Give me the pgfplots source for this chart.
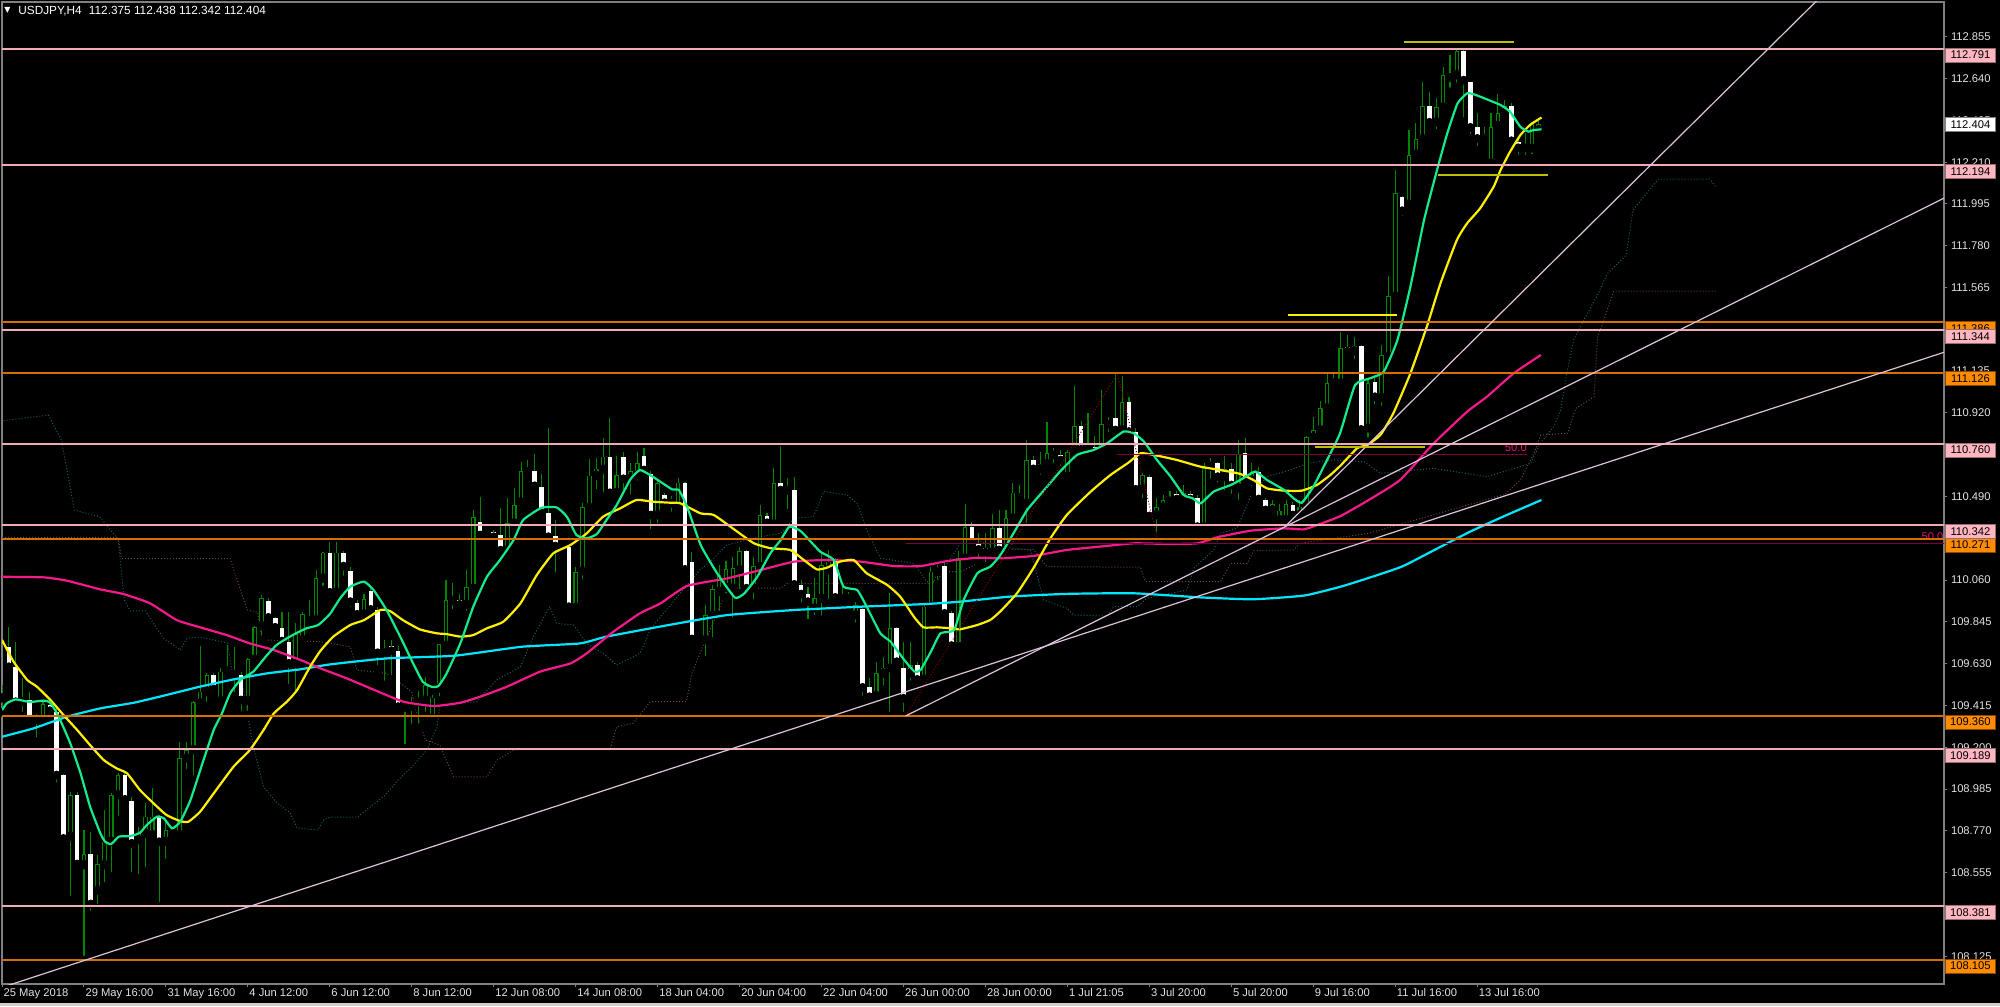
\documentclass[border=0pt]{standalone}
\usepackage{pgfplots}
\pgfplotsset{compat=1.18}
\usepackage{pgfplotstable}
\usepackage{fontspec}
\setmainfont{Liberation Sans}
\newfontfamily\symfont{DejaVu Sans}

\definecolor{wick}{RGB}{0,135,0}
\definecolor{axisGray}{RGB}{128,128,128}
\definecolor{labelText}{RGB}{225,225,225}
\definecolor{barGray}{RGB}{212,208,200}
\definecolor{lvlPink}{RGB}{240,170,180}
\definecolor{lvlOrange}{RGB}{215,110,0}
\definecolor{boxPink}{RGB}{255,182,193}
\definecolor{boxOrange}{RGB}{255,140,0}
\definecolor{edgePink}{RGB}{150,110,115}
\definecolor{edgeOrange}{RGB}{140,70,0}
\definecolor{trend}{RGB}{220,195,220}
\definecolor{maGreen}{RGB}{20,235,140}
\definecolor{maYellow}{RGB}{255,240,0}
\definecolor{maPink}{RGB}{245,25,140}
\definecolor{maCyan}{RGB}{0,230,255}
\definecolor{ichiTeal}{RGB}{20,95,95}
\definecolor{ichiRed}{RGB}{110,65,65}
\definecolor{fibLine}{RGB}{125,0,60}
\definecolor{fibDot}{RGB}{140,0,0}
\definecolor{fibText}{RGB}{225,20,120}
\definecolor{olive}{RGB}{190,190,0}

\newcommand\lblfont{\fontsize{5.6}{6}\selectfont}

% H4 candles: bar index, open, high, low, close
\pgfplotstableread{
i o h l c
0 109.452 109.52 109.38 109.469
1 109.717 109.817 109.58 109.614
2 109.614 109.743 109.426 109.434
3 109.434 109.554 109.36 109.450
4 109.443 109.486 109.331 109.340
5 109.340 109.37 109.229 109.357
6 109.340 109.443 109.323 109.421
7 109.417 109.43 109.37 109.388
8 109.383 109.40 108.997 109.057
9 109.057 109.06 108.723 108.731
10 108.740 108.971 108.414 108.954
11 108.954 108.971 108.577 108.599
12 108.594 108.774 108.105 108.651
13 108.651 108.766 108.337 108.394
14 108.462 108.646 108.371 108.599
15 108.594 108.877 108.483 108.714
16 108.714 108.963 108.534 108.954
17 108.954 109.066 108.826 109.057
18 109.057 109.066 108.894 108.932
19 108.923 108.946 108.534 108.706
20 108.723 108.791 108.526 108.757
21 108.757 108.911 108.560 108.843
22 108.749 108.989 108.723 108.843
23 108.843 108.85 108.380 108.714
24 108.714 108.826 108.603 108.774
25 108.775 108.78 108.74 108.755
26 108.749 109.229 108.740 109.146
27 109.143 109.229 109.066 109.186
28 109.186 109.44 109.032 109.431
29 109.426 109.721 109.400 109.486
30 109.486 109.58 109.409 109.572
31 109.572 109.580 109.460 109.500
32 109.438 109.606 109.426 109.589
33 109.589 109.726 109.563 109.601
34 109.594 109.717 109.460 109.577
35 109.572 109.589 109.366 109.443
36 109.440 109.66 109.366 109.652
37 109.652 109.824 109.632 109.820
38 109.824 109.983 109.752 109.966
39 109.952 109.966 109.829 109.868
40 109.863 109.872 109.803 109.817
41 109.815 109.897 109.740 109.746
42 109.743 109.897 109.503 109.632
43 109.632 109.837 109.460 109.781
44 109.752 109.897 109.717 109.885
45 109.863 109.957 109.820 109.851
46 109.854 110.112 109.846 110.069
47 110.069 110.206 110.009 110.201
48 110.201 110.257 109.949 109.997
49 109.997 110.257 109.960 110.201
50 110.201 110.21 110.06 110.132
51 110.106 110.129 109.90 109.949
52 109.944 109.96 109.86 109.884
53 109.884 109.99 109.87 109.961
54 110.005 110.02 109.88 109.909
55 109.906 109.92 109.60 109.686
56 109.686 109.75 109.52 109.692
57 109.721 109.75 109.55 109.697
58 109.693 109.72 109.40 109.409
59 109.405 109.44 109.194 109.412
60 109.409 109.46 109.30 109.434
61 109.434 109.49 109.30 109.443
62 109.443 109.56 109.36 109.520
63 109.349 109.47 109.306 109.455
64 109.503 109.73 109.44 109.729
65 109.722 110.060 109.717 109.957
66 109.954 110.043 109.889 109.960
67 109.957 109.99 109.90 109.935
68 109.935 110.112 109.880 110.022
69 110.017 110.420 110.009 110.383
70 110.360 110.485 110.283 110.292
71 110.305 110.33 110.29 110.313
72 110.309 110.32 110.27 110.283
73 110.290 110.429 110.189 110.214
74 110.214 110.480 110.197 110.352
75 110.352 110.532 110.335 110.444
76 110.461 110.669 110.455 110.621
77 110.619 110.677 110.60 110.626
78 110.621 110.708 110.540 110.545
79 110.540 110.605 110.403 110.408
80 110.407 110.840 110.266 110.283
81 110.288 110.369 110.077 110.235
82 110.237 110.25 110.22 110.230
83 110.232 110.235 109.906 109.923
84 109.918 110.129 109.909 110.100
85 110.106 110.455 110.043 110.437
86 110.432 110.683 110.420 110.597
87 110.597 110.686 110.506 110.633
88 110.629 110.789 110.489 110.695
89 110.695 110.892 110.506 110.509
90 110.509 110.70 110.48 110.600
91 110.695 110.72 110.50 110.581
92 110.581 110.66 110.48 110.620
93 110.600 110.72 110.55 110.660
94 110.700 110.74 110.60 110.626
95 110.606 110.62 110.30 110.395
96 110.395 110.58 110.33 110.557
97 110.500 110.51 110.44 110.458
98 110.455 110.49 110.39 110.462
99 110.438 110.583 110.438 110.561
100 110.561 110.566 110.095 110.115
101 110.151 110.206 109.752 109.757
102 109.757 109.76 109.745 109.750
103 109.752 109.932 109.646 109.879
104 109.879 110.035 109.743 110.012
105 110.000 110.138 109.880 110.086
106 110.020 110.16 109.97 110.115
107 110.018 110.180 109.846 110.120
108 110.112 110.232 109.992 110.210
109 110.210 110.215 110.009 110.018
110 110.018 110.180 109.940 110.132
111 110.129 110.446 110.112 110.395
112 110.390 110.403 110.343 110.355
113 110.348 110.635 110.335 110.558
114 110.561 110.750 110.506 110.523
115 110.529 110.587 110.403 110.521
116 110.523 110.592 110.035 110.038
117 110.035 110.060 109.923 109.988
118 109.988 110.026 109.838 109.949
119 109.915 110.069 109.858 109.966
120 109.966 110.198 109.855 110.138
121 110.112 110.215 109.940 110.155
122 110.167 110.172 109.966 109.971
123 109.971 110.026 109.923 109.965
124 109.966 110.000 109.923 109.972
125 109.880 109.949 109.820 109.932
126 109.913 109.932 109.443 109.508
127 109.512 109.555 109.443 109.460
128 109.464 109.640 109.409 109.580
129 109.580 109.666 109.495 109.606
130 109.606 109.992 109.361 109.812
131 109.812 109.820 109.615 109.640
132 109.606 109.743 109.361 109.452
133 109.580 109.743 109.520 109.623
134 109.623 109.640 109.530 109.549
135 109.549 109.940 109.540 109.923
136 109.923 110.129 109.900 110.103
137 110.103 110.140 110.040 110.108
138 110.134 110.155 109.870 109.889
139 109.889 109.900 109.700 109.723
140 109.718 110.210 109.710 110.172
141 110.172 110.450 110.160 110.331
142 110.331 110.360 110.200 110.246
143 110.246 110.300 110.150 110.218
144 110.227 110.300 110.130 110.204
145 110.204 110.400 110.180 110.326
146 110.326 110.420 110.200 110.215
147 110.215 110.420 110.200 110.378
148 110.378 110.560 110.340 110.510
149 110.503 110.550 110.450 110.484
150 110.455 110.780 110.330 110.678
151 110.678 110.700 110.600 110.632
152 110.630 110.720 110.580 110.657
153 110.657 110.875 110.620 110.712
154 110.712 110.740 110.640 110.704
155 110.704 110.730 110.630 110.678
156 110.592 110.730 110.580 110.717
157 110.729 111.058 110.700 110.853
158 110.853 110.880 110.700 110.733
159 110.729 110.918 110.700 110.750
160 110.746 110.800 110.700 110.719
161 110.726 111.038 110.720 110.861
162 110.861 110.900 110.800 110.867
163 110.896 111.124 110.820 110.832
164 110.832 111.110 110.820 110.976
165 110.976 111.000 110.810 110.824
166 110.820 110.840 110.500 110.527
167 110.527 110.610 110.460 110.599
168 110.592 110.600 110.380 110.390
169 110.395 110.480 110.283 110.434
170 110.434 110.500 110.400 110.472
171 110.464 110.520 110.420 110.489
172 110.503 110.520 110.460 110.477
173 110.477 110.550 110.440 110.506
174 110.503 110.520 110.440 110.477
175 110.484 110.500 110.320 110.335
176 110.332 110.660 110.320 110.635
177 110.644 110.690 110.560 110.661
178 110.664 110.670 110.540 110.592
179 110.592 110.700 110.500 110.630
180 110.630 110.660 110.480 110.549
181 110.532 110.780 110.450 110.707
182 110.716 110.790 110.530 110.570
183 110.570 110.660 110.520 110.618
184 110.618 110.640 110.440 110.477
185 110.472 110.480 110.400 110.421
186 110.417 110.470 110.400 110.450
187 110.369 110.450 110.340 110.417
188 110.369 110.470 110.360 110.450
189 110.446 110.460 110.380 110.395
190 110.395 110.470 110.370 110.438
191 110.438 110.800 110.430 110.794
192 110.794 110.900 110.750 110.832
193 110.832 110.980 110.800 110.944
194 110.944 111.130 110.920 111.075
195 111.075 111.123 111.030 111.080
196 111.072 111.338 111.063 111.252
197 111.257 111.321 111.226 111.238
198 111.238 111.312 111.175 111.264
199 111.264 111.269 110.789 110.835
200 110.841 111.098 110.772 111.075
201 111.081 111.115 110.943 111.003
202 110.998 111.269 110.935 111.218
203 111.209 111.624 111.209 111.521
204 111.518 112.169 111.501 112.049
205 112.032 112.036 111.912 111.960
206 111.993 112.375 111.981 112.247
207 112.250 112.409 112.247 112.329
208 112.329 112.620 112.324 112.500
209 112.499 112.572 112.409 112.415
210 112.415 112.538 112.358 112.492
211 112.492 112.701 112.487 112.656
212 112.658 112.761 112.572 112.646
213 112.658 112.787 112.598 112.782
214 112.782 112.787 112.418 112.632
215 112.624 112.624 112.332 112.389
216 112.389 112.461 112.272 112.332
217 112.329 112.392 112.324 112.355
218 112.204 112.461 112.204 112.392
219 112.397 112.560 112.375 112.464
220 112.464 112.529 112.444 112.500
221 112.500 112.512 112.315 112.320
222 112.315 112.332 112.224 112.284
223 112.284 112.358 112.224 112.290
224 112.281 112.418 112.229 112.409
225 112.375 112.438 112.342 112.404
}\candles

\tikzset{
  pbox/.style={draw=edgePink, fill=boxPink, text=black, font=\lblfont, inner sep=0pt,
    minimum width=25pt, minimum height=7pt, anchor=north west, line width=0.4pt},
  obox/.style={pbox, draw=edgeOrange, fill=boxOrange},
  wbox/.style={pbox, draw=axisGray, fill=white, anchor=west},
}

\begin{document}
\begin{tikzpicture}
\fill[black] (-1pt,-11pt) rectangle (999pt,492pt);
\fill[barGray] (-1pt,-11pt) rectangle (999pt,-9.6pt);
\begin{axis}[
  at={(0,0)}, anchor=south west,
  scale only axis, width=971pt, height=491pt,
  xmin=0, xmax=284.33, ymin=107.982, ymax=113.034,
  clip mode=individual,
  axis line style={draw=axisGray, line width=0.6pt},
  tick align=outside, major tick length=1.5pt,
  tick style={draw=axisGray, line width=0.5pt},
  xtick pos=lower, ytick pos=upper,
  xticklabel pos=lower, yticklabel pos=upper,
  xtick={0,12,...,216},
  xticklabels={25 May 2018,29 May 16:00,31 May 16:00,4 Jun 12:00,6 Jun 12:00,8 Jun 12:00,12 Jun 08:00,14 Jun 08:00,18 Jun 04:00,20 Jun 04:00,22 Jun 04:00,26 Jun 00:00,28 Jun 00:00,1 Jul 21:05,3 Jul 20:00,5 Jul 20:00,9 Jul 16:00,11 Jul 16:00,13 Jul 16:00},
  ytick={112.855,112.640,112.425,112.210,111.995,111.780,111.565,111.350,111.135,110.920,110.705,110.490,110.275,110.060,109.845,109.630,109.415,109.200,108.985,108.770,108.555,108.340,108.125},
  yticklabels={112.855,112.640,112.425,112.210,111.995,111.780,111.565,111.350,111.135,110.920,110.705,110.490,110.275,110.060,109.845,109.630,109.415,109.200,108.985,108.770,108.555,108.340,108.125},
  tick label style={font=\lblfont, text=labelText},
  xticklabel style={anchor=north west, inner sep=0pt, yshift=-0.6pt, xshift=0.6pt},
  yticklabel style={anchor=west, inner sep=0pt, xshift=1.8pt},
]

% Ichimoku cloud borders
\addplot[ichiTeal, densely dotted, line width=0.5pt] coordinates {
(-0.2,110.878) (6.8,110.909) (8.7,110.781) (10.6,110.420) (14.3,110.385) (17,110.27)
(17.9,109.958) (18.8,109.901) (21,109.901) (23.6,109.762) (26.1,109.700) (27.1,109.762)
(29,109.767) (33,109.736) (33.9,109.546) (35.3,109.505) (36.8,109.201) (38.3,108.996)
(40.3,108.913) (42.2,108.862) (43.2,108.785) (46.2,108.774) (47.1,108.826) (48.1,108.841)
(52,108.84) (56,108.95) (58,109.032) (59.8,109.091) (62.2,109.186) (63.7,109.306)
(64.1,109.417) (69.5,109.434) (72.4,109.546) (75.9,109.614) (77.8,109.769) (80.2,109.923)
(81.2,109.837) (83.7,109.829) (85.6,109.734) (88,109.683) (90,109.623) (93.4,109.683)
(94.9,109.803) (96.4,109.872) (98.3,109.949) (100.3,110.035) (102.2,110.112) (104.2,110.172)
(106.1,110.240) (111,110.283) (114,110.300) (116,110.378) (118.8,110.386) (120.3,110.515)
(123.7,110.498) (125.2,110.455) (126.6,110.318) (128.6,110.172) (133.5,110.146) (135.4,110.052)
(136.9,110.052) (138.4,110.146) (140.3,110.249) (143,110.26) (146.2,110.23) (150.6,110.215)
(152.5,109.958) (155.9,109.915) (156.9,109.880) (161.8,109.875) (162.8,109.923) (166.2,109.923)
(167.6,109.966) (173.5,110.009) (174.5,110.121) (177.4,110.215) (178.4,110.301) (180.8,110.326)
(182.8,110.489) (185.2,110.592) (188.6,110.626) (191.1,110.661) (195,110.678) (199.4,110.669)
(201.8,110.609) (209.6,110.635) (217.4,110.592) (223.8,110.660) (225.2,110.763) (227.2,110.849)
(228.2,110.935) (229.1,111.123) (230.1,111.295) (231.6,111.398) (233.7,111.535) (235,111.635)
(237.8,111.732) (238.8,111.964) (242.5,112.123) (250,112.123) (251,112.08)
};
\addplot[ichiRed, densely dotted, line width=0.5pt] coordinates {
(0,110.28) (17,110.28) (17.5,110.17) (33.4,110.17) (35.9,109.906) (37.4,109.896)
(38.1,109.752) (46.6,109.743) (51,109.717) (52,109.597) (56.3,109.580) (60,109.486)
(60.7,109.374) (62,109.237) (64.1,109.211) (66.1,109.048) (71,109.048) (72.5,109.134)
(74.9,109.186) (89,109.186) (90,109.306) (92.4,109.323) (94.9,109.434) (100.2,109.435)
(101,109.580) (102.3,109.692) (104.3,109.855) (106.2,110.018) (114,110.018) (115,110.043)
(136.4,110.043) (136.9,110.103) (140.3,110.103) (145,110.18) (146.2,110.218) (151,110.218)
(153,110.129) (166.7,110.126) (167.4,110.052) (178.4,110.052) (179.9,110.146) (182.3,110.146)
(183.3,110.211) (189.1,110.215) (190,110.249) (200,110.30) (210,110.40) (220,110.50)
(222.3,110.575) (224.3,110.712) (225.3,110.806) (229.2,110.815) (230.4,110.943) (233.1,111.003)
(233.6,111.312) (234.1,111.355) (236,111.547) (251,111.547)
};

% candles: wicks, then bodies
\addplot[only marks, mark=none, error bars/.cd, y dir=plus, y explicit, error mark=none,
  error bar style={draw=wick, line width=0.55pt}]
  table[x=i, y=l, y error expr=\thisrow{h}-\thisrow{l}] {\candles};
\addplot[only marks, mark=none, restrict expr to domain={\thisrow{c}-\thisrow{o}}{0.0001:10},
  error bars/.cd, y dir=plus, y explicit, error mark=none,
  error bar style={draw=wick, line width=2.3pt}]
  table[x=i, y=o, y error expr=\thisrow{c}-\thisrow{o}] {\candles};
\addplot[only marks, mark=none, restrict expr to domain={\thisrow{c}-\thisrow{o}}{0.012:10},
  error bars/.cd, y dir=plus, y explicit, error mark=none,
  error bar style={draw=black, line width=1.2pt}]
  table[x=i, y expr=\thisrow{o}+0.004, y error expr=\thisrow{c}-\thisrow{o}-0.008] {\candles};
\addplot[only marks, mark=none, restrict expr to domain={\thisrow{o}-\thisrow{c}}{0.0001:10},
  error bars/.cd, y dir=plus, y explicit, error mark=none,
  error bar style={draw=white, line width=2.3pt}]
  table[x=i, y=c, y error expr=\thisrow{o}-\thisrow{c}] {\candles};

% moving averages
\addplot[maCyan, line width=1.1pt, smooth, tension=0.3] coordinates {
(0,109.254) (4.6,109.297) (9.5,109.357) (14.4,109.400) (19.3,109.429) (24.1,109.469)
(29,109.512) (33.9,109.549) (38.8,109.580) (43.7,109.601) (48,109.626) (56.3,109.657)
(66.3,109.671) (76.1,109.717) (84.6,109.734) (88.5,109.769) (97.8,109.830) (106.2,109.880)
(116,109.906) (125.7,109.923) (135.4,109.937) (140.3,109.949) (147.6,109.975) (155.9,109.989)
(165.7,109.992) (175.4,109.971) (182.8,109.961) (187.7,109.971) (191.1,109.983) (196,110.026)
(200,110.07) (205,110.13) (210,110.22) (215,110.31) (220,110.39) (225.4,110.472)
};
\addplot[maPink, line width=1.1pt, smooth, tension=0.3] coordinates {
(0,110.077) (6.1,110.074) (9.5,110.057) (14.4,110.012) (17.8,109.988) (21.7,109.940)
(25.6,109.854) (29.5,109.812) (32.9,109.777) (36.3,109.734) (39.8,109.700) (43.7,109.649)
(46.6,109.606) (50.5,109.554) (55.1,109.486) (58.8,109.434) (63.2,109.412) (67.1,109.429)
(70,109.460) (73.9,109.511) (78.8,109.589) (83.2,109.631) (85.6,109.683) (89.5,109.794)
(93.4,109.889) (96.4,109.940) (100.3,110.030) (106.2,110.069) (111.1,110.112) (116,110.155)
(120.8,110.163) (125.7,110.155) (130.6,110.132) (134.5,110.132) (138.4,110.158) (142.8,110.175)
(146.2,110.172) (151,110.184) (155.9,110.215) (160.7,110.232) (165.7,110.249) (170.6,110.246)
(175,110.249) (177.9,110.280) (182.8,110.314) (187.7,110.326) (190.6,110.321) (193,110.349)
(196,110.390) (200,110.47) (204.7,110.575) (209.6,110.763) (214.5,110.926) (217.4,111.003)
(221.3,111.123) (225.3,111.218)
};
\addplot[maYellow, line width=1.1pt, smooth, tension=0.3] coordinates {
(0,109.752) (1.7,109.640) (3.7,109.546) (5.1,109.512) (7.1,109.443) (9,109.366)
(11,109.289) (12.9,109.211) (14.9,109.134) (16.8,109.091) (18.3,109.066) (20.2,108.980)
(22.2,108.911) (24.1,108.851) (26.1,108.820) (27.3,108.817) (29,108.868) (31,108.963)
(33.9,109.100) (36.3,109.186) (38.3,109.289) (39.8,109.374) (41.7,109.434) (43.2,109.494)
(45.1,109.614) (46.6,109.695) (48.5,109.769) (51,109.829) (53,109.854) (55.4,109.906)
(56.8,109.901) (58.7,109.854) (61.2,109.806) (63.7,109.786) (65.1,109.782) (67.1,109.769)
(69,109.777) (71,109.812) (73.4,109.846) (75.9,109.940) (78.3,110.086) (80.7,110.197)
(83.2,110.240) (85.6,110.300) (88,110.386) (90.5,110.429) (92.9,110.472) (95.3,110.463)
(97.8,110.458) (99.3,110.455) (102.3,110.403) (104.2,110.395) (107.3,110.318) (110.1,110.249)
(112.5,110.224) (115.4,110.215) (117.4,110.163) (119.3,110.115) (120.8,110.124) (122.7,110.155)
(124.7,110.163) (126.6,110.095) (129.6,110.035) (131.5,109.975) (133.5,109.872) (134.9,109.817)
(136.9,109.817) (138.9,109.812) (140.3,109.807) (142.8,109.829) (144.7,109.855) (146.2,109.9)
(148.6,109.992) (151,110.121) (153.5,110.275) (155.9,110.395) (159.4,110.515) (162.3,110.601)
(164.8,110.661) (166.7,110.712) (168.6,110.704) (172,110.678) (175.4,110.644) (178.4,110.626)
(181.3,110.606) (183.2,110.575) (185.2,110.532) (187.7,110.520) (190.3,110.520) (192.5,110.549)
(194.5,110.601) (196,110.650) (198.4,110.738) (199.9,110.755) (201.8,110.806) (203.7,110.918)
(206.2,111.123) (208.6,111.363) (210.6,111.586) (213,111.809) (214.5,111.895) (216.4,111.972)
(218.4,112.084) (219.4,112.169) (220.8,112.264) (222.3,112.349) (223.7,112.401) (225.4,112.440)
};
\addplot[maGreen, line width=1.1pt, smooth, tension=0.3] coordinates {
(0,109.391) (0.7,109.426) (2,109.446) (4.1,109.433) (6.1,109.440) (7.1,109.429)
(8.3,109.357) (10,109.220) (11.5,109.066) (12.9,108.894) (14.4,108.757) (15.1,108.714)
(16,108.702) (17.1,108.740) (18.8,108.743) (20.2,108.760) (21.2,108.800) (22.7,108.843)
(23.7,108.834) (24.9,108.783) (26.1,108.817) (27.6,108.929) (29.5,109.134) (31,109.289)
(32.2,109.374) (33.4,109.477) (34.9,109.546) (36.8,109.589) (38.8,109.674) (40.2,109.726)
(41.7,109.760) (43.2,109.789) (44.6,109.812) (46.3,109.829) (48,109.885) (49.5,109.966)
(51,110.026) (53,110.052) (54.4,110.009) (56.3,109.906) (58.3,109.769) (60.2,109.631)
(61.6,109.537) (62.9,109.511) (63.9,109.515) (65.1,109.580) (67.1,109.734) (69,109.923)
(71,110.077) (72.9,110.163) (74.9,110.266) (76.3,110.369) (79,110.432) (81.2,110.434)
(82.7,110.386) (84.1,110.292) (85.6,110.275) (87.1,110.297) (88.5,110.369) (90,110.446)
(92,110.578) (93.4,110.626) (94.9,110.600) (96.4,110.566) (98.1,110.527) (99.1,110.523)
(100.3,110.438) (102.3,110.240) (104.7,110.095) (107.3,109.970) (108.7,109.992) (110.6,110.078)
(112.5,110.198) (114,110.266) (115.3,110.335) (116.9,110.313) (118.4,110.258) (119.8,110.206)
(121.8,110.163) (123.2,110.026) (125.2,110.009) (126.6,109.923) (128.6,109.786) (130.1,109.743)
(132.1,109.649) (133.6,109.589) (134.5,109.598) (136,109.692) (137.4,109.786) (139.4,109.803)
(140.8,109.958) (142.8,110.095) (144.7,110.129) (146.2,110.19) (148.1,110.301) (150.1,110.421)
(152.6,110.524) (154.9,110.618) (157.4,110.704) (159.8,110.729) (161.8,110.764) (164.2,110.824)
(165.7,110.815) (167.2,110.772) (169.1,110.678) (171.1,110.592) (173,110.498) (174.3,110.481)
(175.5,110.455) (177.4,110.515) (179.9,110.549) (181.3,110.575) (183.5,110.618) (185.2,110.575)
(187.7,110.524) (189.1,110.481) (190.3,110.458) (192,110.541) (194,110.678) (195.9,110.815)
(198.1,111.063) (200.3,111.098) (202.3,111.132) (204.3,111.295) (206.2,111.569) (208.2,111.912)
(210.1,112.169) (211.6,112.358) (213.1,112.512) (214.5,112.564) (215.5,112.559) (216.7,112.543)
(219.4,112.504) (220.8,112.469) (222.3,112.392) (223.5,112.367) (224.2,112.375) (225.4,112.379)
};

% Fibonacci retracement pieces
\addplot[fibDot, densely dotted, line width=0.5pt] coordinates {(132.3,109.361) (163.3,111.124) (169.1,110.283)};
\addplot[fibLine, line width=0.5pt] coordinates {(163.3,110.704) (223.3,110.704)};
\addplot[fibLine, line width=0.5pt] coordinates {(132.3,110.246) (285,110.246)};
\node[anchor=south east, inner sep=0pt, font=\lblfont, text=fibText] at (axis cs:223.3,110.72) {50.0};
\node[anchor=south east, inner sep=0pt, font=\lblfont, text=fibText] at (axis cs:284.3,110.262) {50.0};

% horizontal levels
\addplot[lvlOrange, line width=1pt] coordinates {(-1,111.386) (285,111.386)};
\addplot[lvlOrange, line width=1pt] coordinates {(-1,111.126) (285,111.126)};
\addplot[lvlOrange, line width=1pt] coordinates {(-1,110.271) (285,110.271)};
\addplot[lvlOrange, line width=1pt] coordinates {(-1,109.360) (285,109.360)};
\addplot[lvlOrange, line width=1pt] coordinates {(-1,108.105) (285,108.105)};
\addplot[lvlPink, line width=1pt] coordinates {(-1,112.791) (285,112.791)};
\addplot[lvlPink, line width=1pt] coordinates {(-1,112.194) (285,112.194)};
\addplot[lvlPink, line width=1pt] coordinates {(-1,111.344) (285,111.344)};
\addplot[lvlPink, line width=1pt] coordinates {(-1,110.760) (285,110.760)};
\addplot[lvlPink, line width=1pt] coordinates {(-1,110.342) (285,110.342)};
\addplot[lvlPink, line width=1pt] coordinates {(-1,109.189) (285,109.189)};
\addplot[lvlPink, line width=1pt] coordinates {(-1,108.381) (285,108.381)};

% trend lines
\addplot[trend, line width=0.6pt] coordinates {(-1,107.953) (284.33,111.232)};
\addplot[trend, line width=0.6pt] coordinates {(132.3,109.361) (284.33,112.025)};
\addplot[trend, line width=0.6pt] coordinates {(188,110.34) (270,113.19)};

% short marker lines
\addplot[olive, line width=1pt] coordinates {(205.3,112.828) (221.4,112.828)};
\addplot[olive, line width=1pt] coordinates {(210.3,112.144) (226.4,112.144)};
\addplot[maYellow, line width=0.8pt] coordinates {(188.3,111.424) (204.3,111.424)};
\addplot[olive, line width=1pt] coordinates {(192.3,110.745) (208.4,110.745)};

\coordinate (o1) at (axis cs:284.33,111.386);
\coordinate (o2) at (axis cs:284.33,111.126);
\coordinate (o3) at (axis cs:284.33,110.271);
\coordinate (o4) at (axis cs:284.33,109.360);
\coordinate (o5) at (axis cs:284.33,108.105);
\coordinate (p1) at (axis cs:284.33,112.791);
\coordinate (p2) at (axis cs:284.33,112.194);
\coordinate (p3) at (axis cs:284.33,111.344);
\coordinate (p4) at (axis cs:284.33,110.760);
\coordinate (p5) at (axis cs:284.33,110.342);
\coordinate (p6) at (axis cs:284.33,109.189);
\coordinate (p7) at (axis cs:284.33,108.381);
\coordinate (cur) at (axis cs:284.33,112.404);
\end{axis}

\node[anchor=west, inner sep=0pt, text=white, font=\symfont\fontsize{4}{5}\selectfont] at (1pt,486.9pt) {▼};
\node[anchor=west, inner sep=0pt, text=white, font=\fontsize{5.9}{6}\selectfont] at (8pt,486.65pt)
  {USDJPY,H4\hspace{3.6pt}112.375 112.438 112.342 112.404};

\node[obox] at ([xshift=0.5pt,yshift=0.75pt]o1) {111.386};
\node[obox] at ([xshift=0.5pt,yshift=0.75pt]o2) {111.126};
\node[obox] at ([xshift=0.5pt,yshift=0.75pt]o3) {110.271};
\node[obox] at ([xshift=0.5pt,yshift=0.75pt]o4) {109.360};
\node[obox] at ([xshift=0.5pt,yshift=0.75pt]o5) {108.105};
\node[pbox] at ([xshift=0.5pt,yshift=0.75pt]p1) {112.791};
\node[pbox] at ([xshift=0.5pt,yshift=0.75pt]p2) {112.194};
\node[pbox] at ([xshift=0.5pt,yshift=0.75pt]p3) {111.344};
\node[pbox] at ([xshift=0.5pt,yshift=0.75pt]p4) {110.760};
\node[pbox] at ([xshift=0.5pt,yshift=0.75pt]p5) {110.342};
\node[pbox] at ([xshift=0.5pt,yshift=0.75pt]p6) {109.189};
\node[pbox] at ([xshift=0.5pt,yshift=0.75pt]p7) {108.381};
\node[wbox] at ([xshift=0.5pt]cur) {112.404};

\pgfresetboundingbox
\path[use as bounding box] (-1pt,-11pt) rectangle (999pt,492pt);
\end{tikzpicture}
\end{document}
